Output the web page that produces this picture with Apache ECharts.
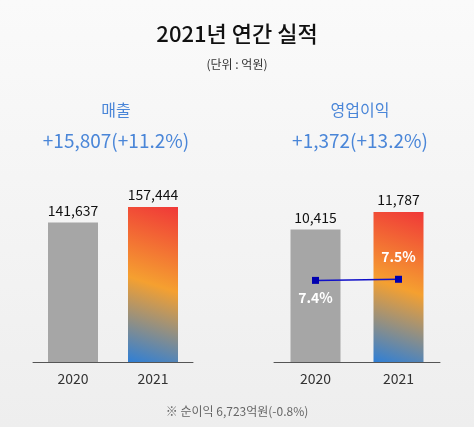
<!DOCTYPE html><html><head><meta charset="utf-8">
<script src="https://cdn.jsdelivr.net/npm/echarts@6/dist/echarts.min.js"></script>
<style>html,body{margin:0;padding:0;background:#f4f4f4}#c{width:474px;height:427px}</style></head><body><div id="c"></div>
<script>
const years=['2020','2021'];
const sales=[141637,157444];
const opProfit=[10415,11787];
const margin=[7.4,7.5];
const F='"Noto Sans CJK KR","Noto Sans",sans-serif';
const grad=new echarts.graphic.LinearGradient(0,1,1,0,[{offset:0,color:'#2f7fd6'},{offset:0.5,color:'#f5a030'},{offset:1,color:'#f03838'}]);
const grey='#a6a6a6';
const chart=echarts.init(document.getElementById('c'));
const xa=(i)=>({type:'category',gridIndex:i,data:years,axisTick:{show:false},axisLine:{lineStyle:{color:'#555'}},axisLabel:{color:'#333',fontSize:14,fontFamily:F,margin:10}});
const lbl={show:true,position:'top',color:'#111',fontSize:14,fontFamily:F,formatter:p=>p.value.toLocaleString('en-US')};
chart.setOption({
 backgroundColor:new echarts.graphic.LinearGradient(0,0,0,1,[{offset:0,color:'#fafafa'},{offset:1,color:'#eeeeee'}]),
 title:[
  {text:'2021년 연간 실적',left:'center',top:18,textStyle:{fontSize:22,fontWeight:500,color:'#111',fontFamily:F}},
  {text:'(단위 : 억원)',left:'center',top:53,textStyle:{fontSize:12,fontWeight:'normal',color:'#333',fontFamily:F}},
  {text:'매출',left:111,textAlign:'center',top:97,textStyle:{fontSize:16,fontWeight:'normal',color:'#4a86d8',fontFamily:F}},
  {text:'+15,807(+11.2%)',left:111,textAlign:'center',top:126,textStyle:{fontSize:19,fontWeight:'normal',color:'#4a86d8',fontFamily:F}},
  {text:'영업이익',left:355,textAlign:'center',top:97,textStyle:{fontSize:16,fontWeight:'normal',color:'#4a86d8',fontFamily:F}},
  {text:'+1,372(+13.2%)',left:355,textAlign:'center',top:126,textStyle:{fontSize:19,fontWeight:'normal',color:'#4a86d8',fontFamily:F}},
  {text:'※ 순이익 6,723억원(-0.8%)',left:'center',top:400,textStyle:{fontSize:12,fontWeight:'normal',color:'#666',fontFamily:F}}
 ],
 grid:[{left:33,width:160,top:207,height:155},{left:274,width:166,top:212,height:150}],
 xAxis:[xa(0),xa(1)],
 yAxis:[{gridIndex:0,min:0,max:157444,show:false},{gridIndex:1,min:0,max:11787,show:false},{gridIndex:1,min:0,max:13.6,show:false}],
 series:[
  {type:'bar',xAxisIndex:0,yAxisIndex:0,barWidth:50,data:sales.map((v,i)=>({value:v,itemStyle:{color:i?grad:grey}})),label:lbl},
  {type:'bar',xAxisIndex:1,yAxisIndex:1,barWidth:50,data:opProfit.map((v,i)=>({value:v,itemStyle:{color:i?grad:grey}})),label:lbl},
  {type:'line',xAxisIndex:1,yAxisIndex:2,data:margin,symbol:'rect',symbolSize:7,lineStyle:{color:'#1010c8',width:1.5},itemStyle:{color:'#0000b0'},
   label:{show:true,color:'#fff',fontWeight:'bold',fontSize:14,fontFamily:F,formatter:p=>p.value+'%',position:'top',distance:12},
   labelLayout:p=>p.dataIndex===0?{dy:40}:{}}
 ]
});
</script></body></html>
